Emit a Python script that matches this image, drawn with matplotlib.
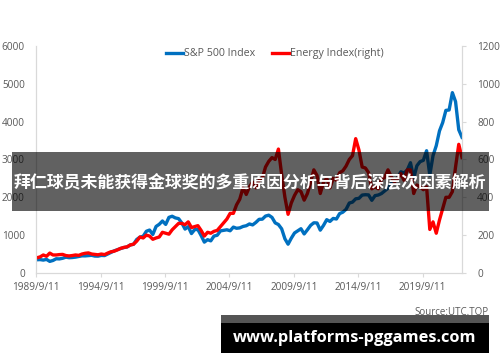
import pandas as pd
import matplotlib
matplotlib.use("Agg")
import matplotlib.pyplot as plt
from matplotlib.patches import Rectangle

plt.rcParams['font.family'] = ['Open Sans', 'DejaVu Sans']

# quarter-end dates, Sep 1989 .. Sep 2022
dates = pd.date_range("1989-09-30", "2022-09-30", freq="QE")

sp500 = [
    349, 353,
    340, 358, 306, 330,
    375, 371, 388, 417,
    403, 408, 418, 436,
    452, 451, 459, 466,
    446, 444, 463, 459,
    501, 545, 584, 616,
    645, 671, 687, 741,
    757, 885, 947, 970,
    1102, 1134, 1017, 1229,
    1286, 1373, 1283, 1469,
    1499, 1455, 1436, 1320,
    1160, 1224, 1041, 1148,
    1147, 990, 815, 880,
    848, 975, 996, 1112,
    1126, 1141, 1115, 1212,
    1181, 1191, 1229, 1248,
    1295, 1270, 1336, 1418,
    1421, 1503, 1527, 1468,
    1323, 1280, 1166, 903,
    760, 919, 1057, 1115,
    1169, 1031, 1141, 1258,
    1326, 1321, 1131, 1258,
    1408, 1362, 1441, 1426,
    1569, 1606, 1682, 1848,
    1872, 1960, 1972, 2059,
    2068, 2063, 1920, 2044,
    2060, 2099, 2168, 2239,
    2363, 2423, 2519, 2674,
    2641, 2718, 2914, 2507,
    2834, 2942, 2977, 3231,
    2585, 3100, 3363, 3756,
    3973, 4298, 4308, 4766,
    4530, 3785, 3586,
]

energy = [
    80, 85,
    95, 88, 105, 95,
    95, 97, 98, 92,
    90, 92, 95, 93,
    100, 104, 106, 100,
    98, 96, 100, 97,
    105, 112, 115, 122,
    130, 135, 138, 148,
    152, 168, 190, 185,
    200, 195, 178, 185,
    190, 215, 210, 205,
    228, 245, 262, 262,
    255, 270, 240, 245,
    250, 225, 195, 215,
    210, 220, 225, 245,
    265, 285, 315, 315,
    360, 390, 450, 415,
    455, 480, 450, 490,
    500, 560, 590, 610,
    600, 655, 520, 400,
    310, 370, 410, 440,
    430, 385, 420, 480,
    545, 515, 420, 480,
    500, 450, 500, 490,
    530, 540, 565, 600,
    620, 710, 650, 560,
    555, 530, 445, 455,
    445, 495, 505, 545,
    510, 480, 500, 525,
    490, 545, 545, 420,
    465, 455, 440, 455,
    230, 270, 210, 280,
    340, 400, 400, 430,
    560, 680, 610,
]

tick_dates = pd.to_datetime(["1989-09-11", "1994-09-11", "1999-09-11", "2004-09-11",
                             "2009-09-11", "2014-09-11", "2019-09-11"])
tick_labels = ["1989/9/11", "1994/9/11", "1999/9/11", "2004/9/11",
               "2009/9/11", "2014/9/11", "2019/9/11"]

grey = "#595959"
axis_col = "#d9d9d9"

fig = plt.figure(figsize=(5, 3.62), dpi=100)
ax = fig.add_axes([0.072, 0.246, 0.852, 0.627])
ax2 = ax.twinx()

l1, = ax.plot(dates, sp500, color="#0070C0", lw=2.4, label="S&P 500 Index")
l2, = ax2.plot(dates, energy, color="#FF0000", lw=2.4, label="Energy Index(right)")

ax.set_xlim(pd.Timestamp("1989-09-05"), pd.Timestamp("2022-09-30"))
ax.set_ylim(0, 6000)
ax2.set_ylim(0, 1200)
ax.set_yticks(range(0, 6001, 1000))
ax2.set_yticks(range(0, 1201, 200))
ax.set_xticks(tick_dates)
ax.set_xticklabels(tick_labels)

for a in (ax, ax2):
    for s in a.spines.values():
        s.set_color(axis_col)
        s.set_linewidth(0.8)
    a.spines["top"].set_visible(False)
    a.tick_params(colors=axis_col, labelcolor=grey, labelsize=7.2, length=3, width=0.8)
ax.tick_params(axis="y", length=0, pad=8)
ax2.tick_params(axis="y", pad=8)

fig.legend(handles=[l1, l2], loc="center", bbox_to_anchor=(0.55, 0.851), ncol=2,
           frameon=False, fontsize=7.7, handlelength=1.6, handletextpad=0.1,
           columnspacing=1.5, labelcolor=grey)

# overlay banner with headline
fig.add_artist(Rectangle((0.024, 0.417), 0.954, 0.163, transform=fig.transFigure,
                         facecolor="black", alpha=0.62, edgecolor="none", zorder=10))
fig.text(0.5, 0.494, "拜仁球员未能获得金球奖的多重原因分析与背后深层次因素解析",
         ha="center", va="center", color="white", fontsize=12.2, fontweight="bold",
         family=["Noto Sans CJK SC", "DejaVu Sans"], zorder=11)

fig.text(0.978, 0.138, "Source:UTC.TOP", ha="right", va="center", color=grey, fontsize=7)

# website box at the bottom
fig.add_artist(Rectangle((0.442, 0.108), 0.536, 0.022, transform=fig.transFigure,
                         facecolor="#555555", edgecolor="none", zorder=10))
fig.add_artist(Rectangle((0.442, 0.025), 0.536, 0.083, transform=fig.transFigure,
                         facecolor="black", edgecolor="none", zorder=10))
fig.text(0.71, 0.066, "www.platforms-pggames.com", ha="center", va="center",
         color="white", fontsize=11.8, fontweight="bold", zorder=11)

fig.savefig("out.png", dpi=100)
